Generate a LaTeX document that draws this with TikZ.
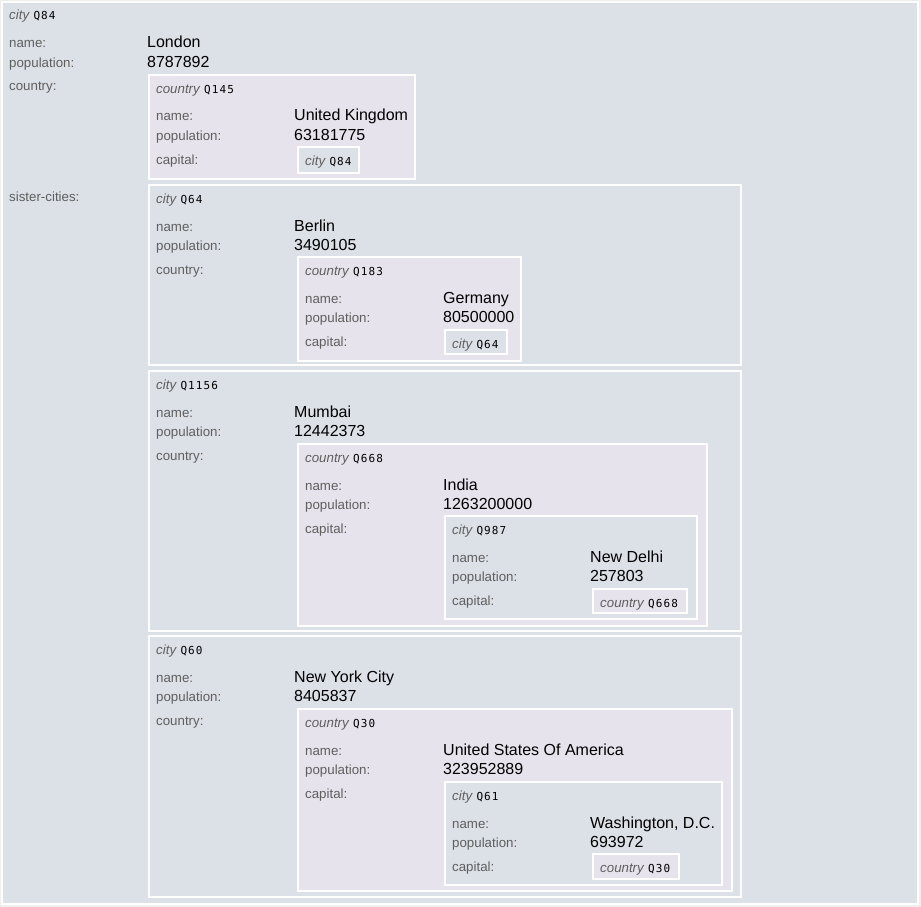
\documentclass[tikz,border=0pt]{standalone}
\usepackage{fontspec}
\setmainfont{Liberation Sans}
\newfontfamily\idfont[LetterSpace=10]{DejaVu Sans Mono}
\definecolor{cityfill}{RGB}{220,224,231}
\definecolor{countryfill}{RGB}{230,227,236}
\definecolor{pagebg}{RGB}{238,238,238}
\definecolor{lblgray}{RGB}{95,95,95}
\tikzset{
  boxframe/.style={draw=white, line width=2pt},
  lbl/.style={anchor=base west, inner sep=0pt, text=lblgray, font=\fontsize{13.3}{15}\selectfont},
  val/.style={anchor=base west, inner sep=0pt, text=black, font=\fontsize{16}{18}\selectfont},
  hdr/.style={anchor=base west, inner sep=0pt, text=lblgray, font=\fontsize{13.3}{15}\selectfont},
}
\newcommand\frameb[5]{\path[boxframe, fill=#5] ({#1+1},{#2+1}) rectangle ({#3-1},{#4-1});}
\newcommand\headr[5]{\node[hdr] (#1-h) at ({#2+8},{#3+19}) {\textit{#4} {\color{black}\idfont\fontsize{11}{14}\selectfont #5}};}
\newcommand\rowsb[6]{%
  \node[lbl] (#1-nl) at ({#2+8},{#3+47}) {name:};
  \node[val] (#1-nv) at ({#2+146},{#3+47}) {#4};
  \node[lbl] (#1-pl) at ({#2+8},{#3+66}) {population:};
  \node[val] (#1-pv) at ({#2+146},{#3+66}) {#5};
  \node[lbl] (#1-cl) at ({#2+8},{#3+90}) {#6};}
\begin{document}
\begin{tikzpicture}[x=1pt,y=-1pt]
\fill[pagebg] (0,0) rectangle (921,907);
\useasboundingbox (0,0) rectangle (921,907);
% main city Q84
\frameb{1}{1}{919}{905}{cityfill}
\headr{q84}{1}{1}{city}{Q84}
\rowsb{q84}{1}{1}{London}{8787892}{country:}
\node[lbl] (q84-sl) at (9,201) {sister-cities:};
% country Q145
\frameb{148}{74}{416}{180}{countryfill}
\headr{q145}{148}{74}{country}{Q145}
\rowsb{q145}{148}{74}{United Kingdom}{63181775}{capital:}
\frameb{297}{146}{360}{174}{cityfill}
\headr{q84r}{297}{146}{city}{Q84}
% city Q64
\frameb{148}{184}{742}{366}{cityfill}
\headr{q64}{148}{184}{city}{Q64}
\rowsb{q64}{148}{184}{Berlin}{3490105}{country:}
\frameb{297}{256}{522}{362}{countryfill}
\headr{q183}{297}{256}{country}{Q183}
\rowsb{q183}{297}{256}{Germany}{80500000}{capital:}
\frameb{444}{329}{508}{355}{cityfill}
\headr{q64r}{444}{329}{city}{Q64}
% city Q1156
\frameb{148}{370}{742}{632}{cityfill}
\headr{q1156}{148}{370}{city}{Q1156}
\rowsb{q1156}{148}{370}{Mumbai}{12442373}{country:}
\frameb{297}{443}{708}{627}{countryfill}
\headr{q668}{297}{443}{country}{Q668}
\rowsb{q668}{297}{443}{India}{1263200000}{capital:}
\frameb{444}{515}{698}{620}{cityfill}
\headr{q987}{444}{515}{city}{Q987}
\rowsb{q987}{444}{515}{New Delhi}{257803}{capital:}
\frameb{592}{588}{688}{614}{countryfill}
\headr{q668r}{592}{588}{country}{Q668}
% city Q60
\frameb{148}{635}{742}{898}{cityfill}
\headr{q60}{148}{635}{city}{Q60}
\rowsb{q60}{148}{635}{New York City}{8405837}{country:}
\frameb{297}{708}{733}{892}{countryfill}
\headr{q30}{297}{708}{country}{Q30}
\rowsb{q30}{297}{708}{United States Of America}{323952889}{capital:}
\frameb{444}{781}{723}{886}{cityfill}
\headr{q61}{444}{781}{city}{Q61}
\rowsb{q61}{444}{781}{Washington, D.C.}{693972}{capital:}
\frameb{592}{853}{680}{880}{countryfill}
\headr{q30r}{592}{853}{country}{Q30}
\end{tikzpicture}
\end{document}
